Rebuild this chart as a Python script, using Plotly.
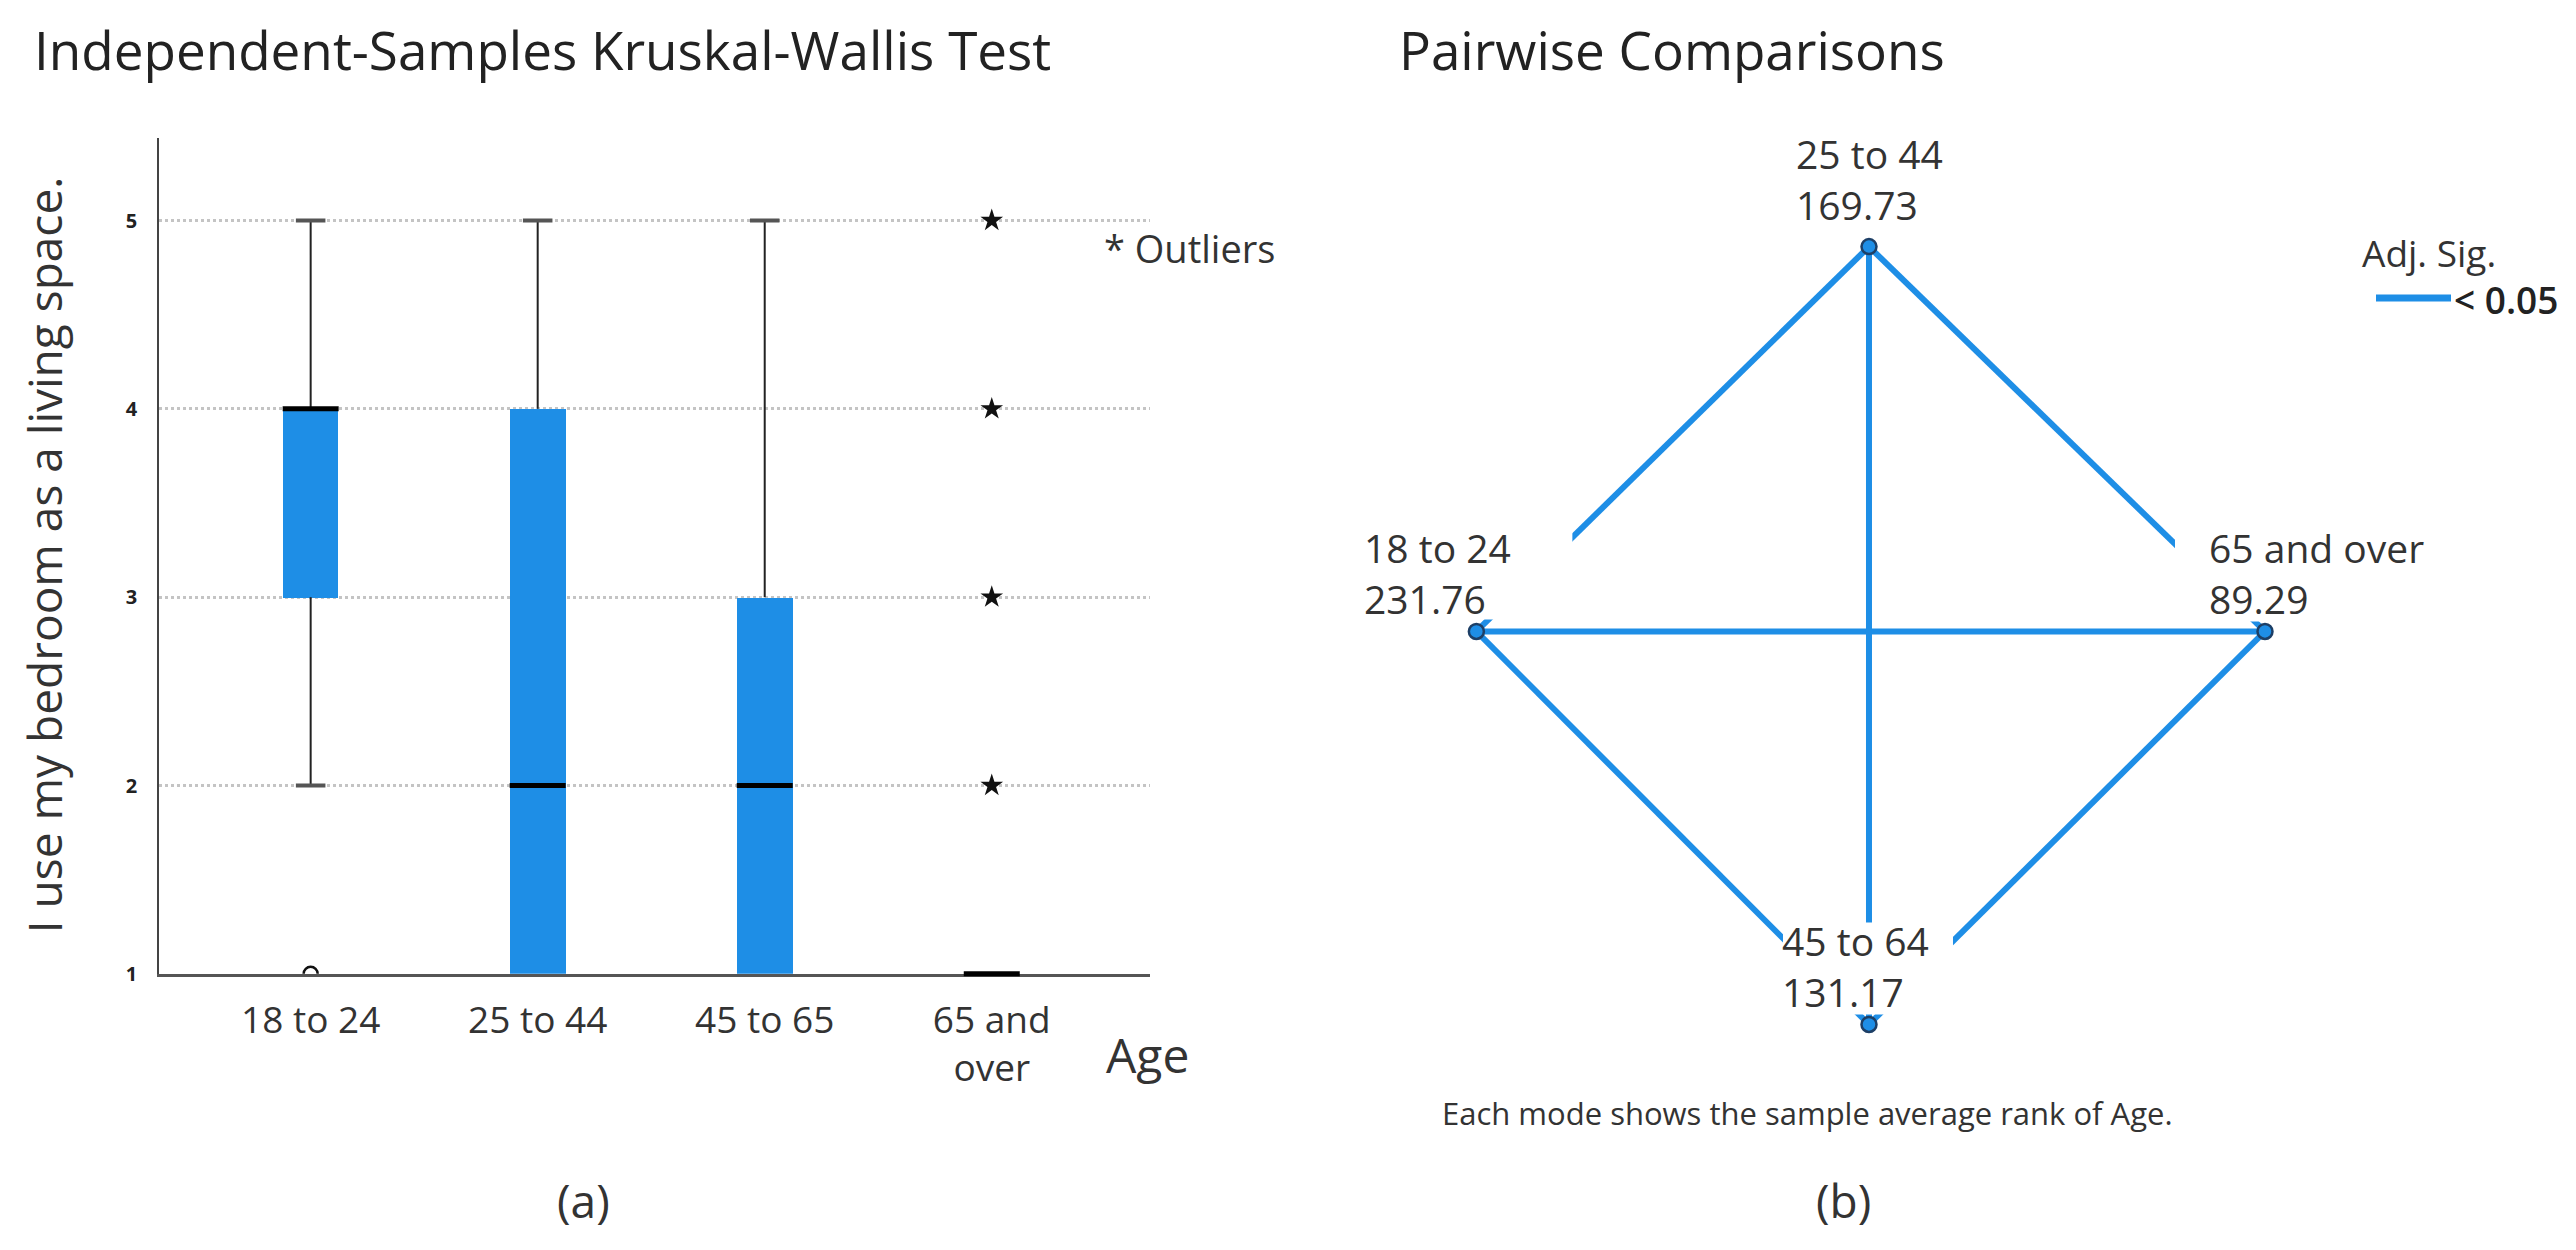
import plotly.graph_objects as go

# ----------------------------------------------------------
# (a) Kruskal-Wallis box plot data
# ----------------------------------------------------------
age_groups = ["18 to 24", "25 to 44", "45 to 65", "65 and<br>over"]
whisker_low = [2, 1, 1, 1]
q1 = [3, 1, 1, 1]
median = [4, 2, 2, 1]
q3 = [4, 4, 3, 1]
whisker_high = [5, 5, 5, 1]

# outliers (circle) and extremes (star): group index + value
circle_group = [0]
circle_value = [1]
star_group = [3, 3, 3, 3]
star_value = [2, 3, 4, 5]

y_ticks = [1, 2, 3, 4, 5]

# ----------------------------------------------------------
# (b) Pairwise comparisons data
# ----------------------------------------------------------
rank_groups = ["18 to 24", "25 to 44", "45 to 64", "65 and over"]
mean_ranks = [231.76, 169.73, 131.17, 89.29]
sig_pairs = [
    ("18 to 24", "25 to 44"),
    ("18 to 24", "45 to 64"),
    ("18 to 24", "65 and over"),
    ("25 to 44", "45 to 64"),
    ("25 to 44", "65 and over"),
    ("45 to 64", "65 and over"),
]

# diamond layout of the network (layout, not data)
node_pos = {
    "18 to 24": (-1.047, 0.0),
    "25 to 44": (0.0, 1.037),
    "45 to 64": (0.0, -1.059),
    "65 and over": (1.056, 0.0),
}
# label offsets in px: xshift, yshift
label_shift = {
    "18 to 24": (-114, 58),
    "25 to 44": (-75, 68),
    "45 to 64": (-89, 58),
    "65 and over": (-58, 58),
}
# white boxes behind labels (px relative to node: x0, x1, y0, y1)
label_mask = {
    "18 to 24": (-114, 96, 12, 108),
    "45 to 64": (-86, 84, 10, 102),
    "65 and over": (-90, 183, 10, 102),
}

BLUE = "#1e8ee6"
FONT = "Open Sans"
TEXT = "#333333"
W, H = 2576, 1250
BOX_W = 0.245
MEDIAN_SIZE = 40   # line-ew marker is 1.4x its size long -> ~56 px, the box width
CAP = 0.065

fig = go.Figure()

# ---------------- box plot ----------------
xs = list(range(len(age_groups)))

fig.add_trace(go.Bar(
    x=xs,
    y=[b - a for a, b in zip(q1, q3)],
    base=q1,
    width=BOX_W,
    marker=dict(color=BLUE, line=dict(width=0)),
    showlegend=False,
    hoverinfo="skip",
))

wx, wy, cx, cy = [], [], [], []
for i, lo, a, b, hi in zip(xs, whisker_low, q1, q3, whisker_high):
    if hi > b:
        wx += [i, i, None]
        wy += [b, hi, None]
        cx += [i - CAP, i + CAP, None]
        cy += [hi, hi, None]
    if lo < a:
        wx += [i, i, None]
        wy += [lo, a, None]
        cx += [i - CAP, i + CAP, None]
        cy += [lo, lo, None]

fig.add_trace(go.Scatter(x=wx, y=wy, mode="lines", line=dict(color="#222", width=2),
                         showlegend=False, hoverinfo="skip"))
fig.add_trace(go.Scatter(x=cx, y=cy, mode="lines", line=dict(color="#555", width=4),
                         showlegend=False, hoverinfo="skip"))
# medians as line markers so the one sitting on the axis is not clipped
fig.add_trace(go.Scatter(x=xs, y=median, mode="markers",
                         marker=dict(symbol="line-ew", size=MEDIAN_SIZE, color="#000",
                                     line=dict(color="#000", width=5)),
                         showlegend=False, hoverinfo="skip", cliponaxis=False))
fig.add_trace(go.Scatter(x=star_group, y=star_value, mode="markers",
                         marker=dict(symbol="star", size=17, color="#111"),
                         showlegend=False, cliponaxis=False))
fig.add_trace(go.Scatter(x=circle_group, y=circle_value, mode="markers",
                         marker=dict(symbol="circle-open", size=14, color="#111", line=dict(width=2.5)),
                         showlegend=False, cliponaxis=True))

# ---------------- network ----------------
ex, ey = [], []
for a, b in sig_pairs:
    (x0, y0), (x1, y1) = node_pos[a], node_pos[b]
    ex += [x0, x1, None]
    ey += [y0, y1, None]

fig.add_trace(go.Scatter(
    x=ex, y=ey, xaxis="x2", yaxis="y2",
    mode="lines",
    line=dict(color=BLUE, width=6),
    showlegend=False,
    hoverinfo="skip",
))

fig.add_trace(go.Scatter(
    x=[node_pos[g][0] for g in rank_groups],
    y=[node_pos[g][1] for g in rank_groups],
    xaxis="x2", yaxis="y2",
    mode="markers",
    marker=dict(size=15, color=BLUE, line=dict(color="#1d3f66", width=2.5)),
    text=rank_groups,
    showlegend=False,
))

shapes = []
for g, (x0, x1, y0, y1) in label_mask.items():
    px_, py_ = node_pos[g]
    shapes.append(dict(
        type="rect", xref="x2", yref="y2",
        xsizemode="pixel", ysizemode="pixel",
        xanchor=px_, yanchor=py_,
        x0=x0, x1=x1, y0=y0, y1=y1,
        fillcolor="white", line=dict(width=0), layer="above",
    ))

# legend (Adj. Sig.) drawn by hand so the key line matches
shapes.append(dict(
    type="line", xref="paper", yref="paper",
    x0=2368 / W, x1=2443 / W, y0=1 - 293 / H, y1=1 - 293 / H,
    line=dict(color=BLUE, width=7),
))

annotations = []
for g, r in zip(rank_groups, mean_ranks):
    px_, py_ = node_pos[g]
    dx, dy = label_shift[g]
    annotations.append(dict(
        x=px_, y=py_, xref="x2", yref="y2",
        text=f"{g}<br>{r:.2f}", showarrow=False, align="left",
        xanchor="left", yanchor="middle",
        xshift=dx, yshift=dy,
        font=dict(size=39, color=TEXT),
    ))

def paper_text(text, x, y, size, xanchor="left", angle=0, color=TEXT, weight="normal"):
    annotations.append(dict(
        text=text, x=x / W, y=1 - y / H, xref="paper", yref="paper",
        xanchor=xanchor, yanchor="middle", showarrow=False,
        textangle=angle, font=dict(size=size, color=color, weight=weight),
    ))

paper_text("Independent-Samples Kruskal-Wallis Test", 24, 42, 53, color="#222")
paper_text("Pairwise Comparisons", 1389, 42, 53, color="#222")
paper_text("I use my bedroom as a living space.", 36, 553, 46, xanchor="center", angle=-90)
paper_text("* Outliers", 1094, 243, 38)
paper_text("Age", 1096, 1058, 48)
paper_text("Adj. Sig.", 2352, 247, 37)
paper_text("&lt; 0.05", 2444, 295, 37, color="#222", weight=600)
paper_text("Each mode shows the sample average rank of Age.", 1432, 1117, 31)
paper_text("(a)", 575, 1205, 46, xanchor="center")
paper_text("(b)", 1835, 1205, 46, xanchor="center")

fig.update_layout(
    width=W, height=H,
    margin=dict(l=0, r=0, t=0, b=0),
    paper_bgcolor="white",
    plot_bgcolor="white",
    font=dict(family=FONT, color=TEXT),
    showlegend=False,
    bargap=0,
    xaxis=dict(
        domain=[151 / W, 1142 / W],
        range=[-0.668, 3.697],
        tickvals=xs, ticktext=age_groups,
        tickfont=dict(size=37, color=TEXT),
        ticks="", ticklabelstandoff=12,
        showgrid=False, zeroline=False,
        showline=True, linecolor="#555", linewidth=2.5,
        layer="below traces",
        anchor="y",
    ),
    yaxis=dict(
        domain=[1 - 976 / H, 1 - 131 / H],
        range=[1, 5.44],
        tickvals=y_ticks,
        tickfont=dict(size=20, color="#222", weight="bold"),
        ticks="", ticklabelstandoff=16,
        showgrid=True, gridcolor="#c4c4c4", griddash="dot", gridwidth=2.5,
        zeroline=False,
        showline=True, linecolor="#444", linewidth=1.5,
        layer="below traces",
        anchor="x",
    ),
    xaxis2=dict(
        domain=[0.5, 1.0], range=[-1.528, 1.9067],
        visible=False, anchor="y2",
    ),
    yaxis2=dict(
        domain=[0.0, 1.0], range=[-1.6533, 1.68],
        visible=False, anchor="x2",
    ),
    shapes=shapes,
    annotations=annotations,
)

fig.write_html("out.html")
